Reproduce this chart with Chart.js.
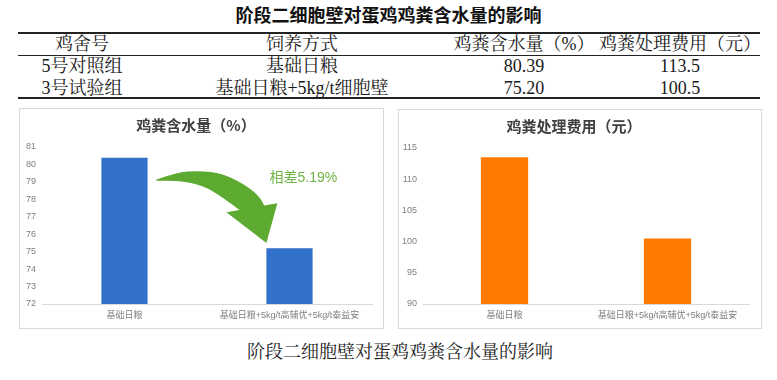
<!DOCTYPE html>
<html>
<head>
<meta charset="utf-8">
<script src="https://cdn.jsdelivr.net/npm/chart.js@4.4.1/dist/chart.umd.min.js"></script>
<style>
  html, body { margin: 0; padding: 0; background: #fff; }
  body { width: 777px; height: 380px; position: relative; overflow: hidden;
         font-family: "Liberation Serif", "Noto Serif CJK SC", "Noto Sans CJK SC", serif; color: #1a1a1a; }
  .abs { position: absolute; }
  .title { left: 0; width: 777px; top: 3px; text-align: center; font-family: "Noto Sans CJK SC", sans-serif;
           font-weight: bold; font-size: 18px; line-height: 22px; color: #111; }
  .rule { position: absolute; left: 18px; width: 742px; background: #222; }
  .cell { position: absolute; transform: translateX(-50%); white-space: nowrap; font-size: 18px; line-height: 22px; }
  .box { position: absolute; border: 1px solid #d9d9d9; box-sizing: border-box; }
  .caption { left: 0; width: 800px; top: 341px; text-align: center; font-size: 18px; line-height: 22px; color: #222;
             font-family: "Liberation Serif", "Noto Serif CJK SC", "Noto Sans CJK SC", serif; }
</style>
</head>
<body>
<div class="abs title" id="mainTitle"></div>
<div class="rule" style="top:32px;height:2px"></div>
<div class="rule" style="top:55px;height:1px"></div>
<div class="rule" style="top:97px;height:2px"></div>
<div id="table"></div>
<div class="box" style="left:19px;top:108px;width:365px;height:221px"><canvas id="c1" width="363" height="219"></canvas></div>
<div class="box" style="left:398px;top:109px;width:364px;height:220px"><canvas id="c2" width="362" height="218"></canvas></div>
<div class="abs caption" id="caption"></div>
<script>
// ---- data ----
const pageTitle = "阶段二细胞壁对蛋鸡鸡粪含水量的影响";
const tableHeaders = ["鸡舍号", "饲养方式", "鸡粪含水量（%）", "鸡粪处理费用（元）"];
const houses = ["5号对照组", "3号试验组"];
const feedModes = ["基础日粮", "基础日粮+5kg/t细胞壁"];
const moistureText = ["80.39", "75.20"];
const costText = ["113.5", "100.5"];
const categories = ["基础日粮", "基础日粮+5kg/t高辅优+5kg/t泰益安"];
const moisture = [80.39, 75.20];
const cost = [113.5, 100.5];
const chartTitle1 = "鸡粪含水量（%）";
const chartTitle2 = "鸡粪处理费用（元）";

// ---- header / table ----
document.getElementById('mainTitle').textContent = pageTitle;
document.getElementById('caption').textContent = pageTitle;
const colX = [82, 302, 524, 680];
const rowY = [33, 55, 77];
const tbl = document.getElementById('table');
function addCell(text, col, row) {
  const d = document.createElement('div');
  d.className = 'cell';
  d.style.left = colX[col] + 'px';
  d.style.top = rowY[row] + 'px';
  d.textContent = text;
  tbl.appendChild(d);
}
tableHeaders.forEach((h, i) => addCell(h, i, 0));
houses.forEach((h, r) => {
  addCell(h, 0, r + 1);
  addCell(feedModes[r], 1, r + 1);
  addCell(moistureText[r], 2, r + 1);
  addCell(costText[r], 3, r + 1);
});

// ---- charts ----
const sansFamily = '"Liberation Sans", "Noto Sans CJK SC", sans-serif';
function makeOptions(title, min, max, step, yWidth, rightPad) {
  return {
    responsive: false,
    animation: false,
    layout: { padding: { left: 0, right: rightPad, top: 0, bottom: 0 } },
    plugins: {
      legend: { display: false },
      tooltip: { enabled: false },
      title: {
        display: true, text: title, color: '#404040',
        font: { family: '"Noto Sans CJK SC", sans-serif', size: 15, weight: 'bold' },
        padding: { top: 7, bottom: 13 }
      }
    },
    scales: {
      x: {
        grid: { display: false, drawTicks: false },
        border: { display: true, color: '#d9d9d9', width: 1 },
        ticks: { color: '#7f7f7f', font: { family: sansFamily, size: 9 }, padding: 6, maxRotation: 0, autoSkip: false },
        afterFit: s => { s.height = 24; }
      },
      y: {
        min: min, max: max,
        grid: { display: false, drawTicks: false },
        border: { display: false },
        ticks: { stepSize: step, color: '#7f7f7f', font: { family: sansFamily, size: 9 }, padding: 6 },
        afterFit: s => { s.width = yWidth; }
      }
    }
  };
}

function smoothPath(ctx, pts) {
  for (let i = 1; i < pts.length - 1; i++) {
    const mx = (pts[i][0] + pts[i + 1][0]) / 2, my = (pts[i][1] + pts[i + 1][1]) / 2;
    ctx.quadraticCurveTo(pts[i][0], pts[i][1], mx, my);
  }
  const l = pts[pts.length - 1];
  ctx.lineTo(l[0], l[1]);
}

const arrowPlugin = {
  id: 'diffArrow',
  afterDatasetsDraw(chart) {
    const xs = chart.scales.x, ys = chart.scales.y, ctx = chart.ctx;
    const tx = xs.getPixelForValue(0.194), ty = ys.getPixelForValue(moisture[0] - 1.25);
    const hx = xs.getPixelForValue(0.86), hy = ys.getPixelForValue(moisture[1] + 0.3);
    const P = (fx, fy) => [tx + fx * (hx - tx), ty + fy * (hy - ty)];
    ctx.save();
    ctx.fillStyle = '#5caa30';
    ctx.beginPath();
    const t = P(0, 0);
    ctx.moveTo(t[0], t[1]);
    smoothPath(ctx, [t, P(0.18, -0.11), P(0.39, -0.14), P(0.6, -0.094), P(0.82, 0.094), P(0.94, 0.28), P(0.98, 0.41)]);
    [P(1.1, 0.375), P(1, 1), P(0.636, 0.516), P(0.755, 0.48)].forEach(p => ctx.lineTo(p[0], p[1]));
    smoothPath(ctx, [P(0.755, 0.48), P(0.6, 0.28), P(0.42, 0.094), P(0.21, 0.02), P(0, 0.02)]);
    ctx.closePath();
    ctx.fill();
    // label
    const diff = (moisture[0] - moisture[1]).toFixed(2);
    ctx.fillStyle = '#6fb243';
    ctx.font = '14px "Liberation Sans", "Noto Sans CJK SC", sans-serif';
    ctx.textAlign = 'left';
    ctx.textBaseline = 'middle';
    ctx.fillText('相差' + diff + '%', xs.getPixelForValue(0.879), ys.getPixelForValue(moisture[0] - 1.2));
    ctx.restore();
  }
};

new Chart(document.getElementById('c1'), {
  type: 'bar',
  data: { labels: categories, datasets: [{ data: moisture, backgroundColor: '#3171c9', categoryPercentage: 1, barPercentage: 0.28 }] },
  options: makeOptions(chartTitle1, 72, 81, 1, 22, 11),
  plugins: [arrowPlugin]
});

new Chart(document.getElementById('c2'), {
  type: 'bar',
  data: { labels: categories, datasets: [{ data: cost, backgroundColor: '#ff7a00', categoryPercentage: 1, barPercentage: 0.29 }] },
  options: makeOptions(chartTitle2, 90, 115, 5, 24, 12)
});
</script>
</body>
</html>
